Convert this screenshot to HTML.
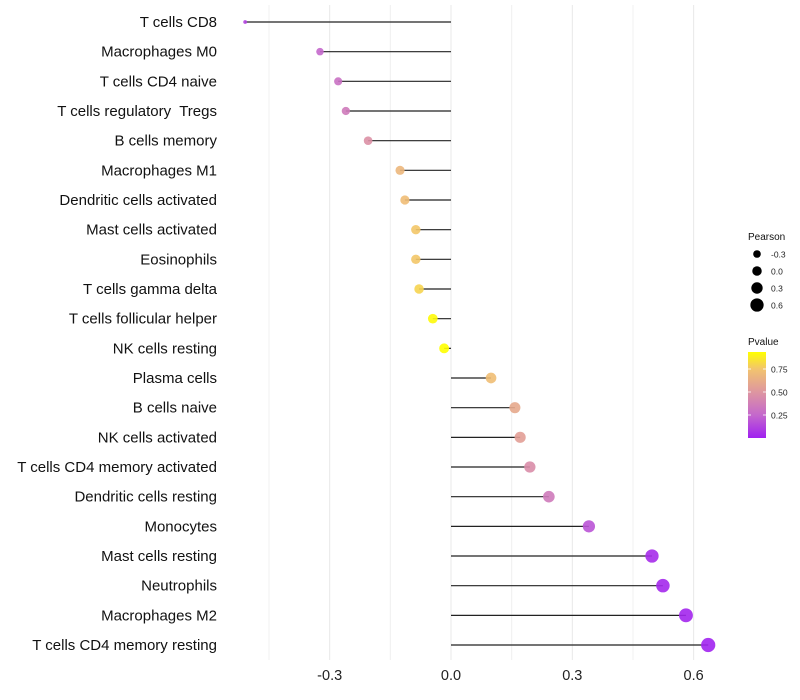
<!DOCTYPE html>
<html><head><meta charset="utf-8"><style>
body{margin:0;background:#fff;font-family:"Liberation Sans",sans-serif;}
svg{display:block}
</style></head><body>
<svg id="chart" width="800" height="700"></svg>
<script>
const categories=["T cells CD8","Macrophages M0","T cells CD4 naive","T cells regulatory  Tregs","B cells memory","Macrophages M1","Dendritic cells activated","Mast cells activated","Eosinophils","T cells gamma delta","T cells follicular helper","NK cells resting","Plasma cells","B cells naive","NK cells activated","T cells CD4 memory activated","Dendritic cells resting","Monocytes","Mast cells resting","Neutrophils","Macrophages M2","T cells CD4 memory resting"];
const pearson=[-0.509,-0.324,-0.279,-0.26,-0.205,-0.126,-0.114,-0.087,-0.087,-0.079,-0.045,-0.017,0.099,0.158,0.171,0.195,0.242,0.341,0.497,0.524,0.581,0.636];
const pvalues=[0.12,0.25,0.3,0.35,0.47,0.68,0.71,0.76,0.76,0.8,0.92,0.97,0.72,0.6,0.55,0.45,0.35,0.18,0.04,0.03,0.02,0.01];
const xTicks=[-0.3,0,0.3,0.6];
const xTickLabels=["-0.3","0.0","0.3","0.6"];
const minorTicks=[-0.45,-0.15,0.15,0.45];
const sizeLegend=[-0.3,0,0.3,0.6];
const colorTicks=[0.25,0.5,0.75];

const NS="http://www.w3.org/2000/svg";
const svg=document.getElementById('chart');
function el(t,a,p){const e=document.createElementNS(NS,t);for(const k in a)e.setAttribute(k,a[k]);(p||svg).appendChild(e);return e;}
const x=v=>451+v*404.4;
const y=i=>22+i*29.667;
const r=v=>v<-0.3?Math.max(1.8,4+(v+0.3)*10):5+3.33*v;
const stops=[[0,[160,32,240]],[0.25,[196,104,204]],[0.5,[222,150,160]],[0.75,[242,196,110]],[0.935,[255,255,0]]];
function col(p){p=Math.max(0,Math.min(0.935,p));for(let i=1;i<stops.length;i++){if(p<=stops[i][0]){const a=stops[i-1],b=stops[i],t=(p-a[0])/(b[0]-a[0]);const c=a[1].map((v,k)=>Math.round(v+(b[1][k]-v)*t));return`rgb(${c.join(',')})`;}}return'rgb(255,255,0)';}
const cy0=438,cpx=92;
const cyv=p=>cy0-p*cpx;

minorTicks.forEach(t=>{const g=el('line',{x1:x(t),x2:x(t),y1:5,y2:660,stroke:'#f0f0f0','stroke-width':1});

});
xTicks.forEach((t,i)=>{const g=el('line',{x1:x(t),x2:x(t),y1:5,y2:660,stroke:'#e8e8e8','stroke-width':1});


const tx=el('text',{x:x(t),y:680,'text-anchor':'middle','font-size':14.5,fill:'#222'});tx.textContent=xTickLabels[i];

});
categories.forEach((c,i)=>{
const t=el('text',{x:217,y:y(i)+5,'text-anchor':'end','font-size':15,fill:'#111'});t.textContent=c;
t.setAttribute('xml:space','preserve');t.style.whiteSpace='pre';


const l=el('line',{x1:x(0),x2:x(pearson[i]),y1:y(i),y2:y(i),stroke:'#222','stroke-width':1.2});


const d=el('circle',{cx:x(pearson[i]),cy:y(i),r:r(pearson[i]),fill:col(pvalues[i]),'fill-opacity':0.9});


});
const lt=el('text',{x:748,y:240,'font-size':10,fill:'#111'});lt.textContent='Pearson';


sizeLegend.forEach((v,i)=>{const yy=254+i*17;
const c=el('circle',{cx:757,cy:yy,r:r(v)*0.95,fill:'#000'});


const t=el('text',{x:771,y:yy+3.5,'font-size':8.5,fill:'#222'});t.textContent=v===0?'0.0':String(v);

});
const pt=el('text',{x:748,y:345,'font-size':10,fill:'#111'});pt.textContent='Pvalue';


const defs=el('defs',{});const lg=el('linearGradient',{id:'gr',x1:0,y1:1,x2:0,y2:0},defs);
stops.forEach(s=>el('stop',{offset:s[0]/0.935,'stop-color':`rgb(${s[1].join(',')})`},lg));
const bar=el('rect',{x:748,y:352,width:18,height:86,fill:'url(#gr)'});


colorTicks.forEach(p=>{
el('line',{x1:748,x2:751,y1:cyv(p),y2:cyv(p),stroke:'#fff','stroke-width':0.8});
el('line',{x1:763,x2:766,y1:cyv(p),y2:cyv(p),stroke:'#fff','stroke-width':0.8});
const t=el('text',{x:771,y:cyv(p)+3.5,'font-size':8.5,fill:'#222'});t.textContent=p.toFixed(2);

});
</script>
</body></html>
